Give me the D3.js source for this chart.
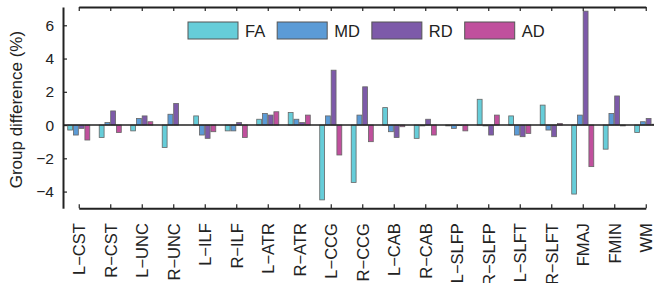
<!DOCTYPE html>
<html><head><meta charset="utf-8">
<script src="https://cdn.jsdelivr.net/npm/d3@7"></script>
<style>
html,body{margin:0;padding:0;background:#fff;}
svg{display:block;font-family:"Liberation Sans",Arial,Helvetica,sans-serif;}
</style></head>
<body><svg id="c" width="654" height="283"></svg>
<script>
const categories = ["L\u2212CST","R\u2212CST","L\u2212UNC","R\u2212UNC","L\u2212ILF","R\u2212ILF","L\u2212ATR","R\u2212ATR","L\u2212CCG","R\u2212CCG","L\u2212CAB","R\u2212CAB","L\u2212SLFP","R\u2212SLFP","L\u2212SLFT","R\u2212SLFT","FMAJ","FMIN","WM"];
const seriesNames = ["FA","MD","RD","AD"];
const FA = [-0.3,-0.75,-0.35,-1.35,0.55,-0.35,0.35,0.75,-4.5,-3.45,1.05,-0.8,-0.05,1.55,0.55,1.2,-4.15,-1.45,-0.45];
const MD = [-0.6,0.15,0.4,0.65,-0.6,-0.35,0.7,0.35,0.55,0.6,-0.4,-0.05,-0.2,-0.05,-0.6,-0.3,0.6,0.7,0.2];
const RD = [-0.2,0.85,0.55,1.3,-0.8,0.15,0.6,0.15,3.3,2.3,-0.75,0.35,-0.03,-0.6,-0.7,-0.7,6.85,1.75,0.4];
const AD = [-0.9,-0.45,0.2,0.0,-0.4,-0.75,0.8,0.6,-1.8,-1.0,-0.1,-0.6,-0.35,0.6,-0.5,0.1,-2.5,-0.05,0.05];
const yTicks = [-4,-2,0,2,4,6];
const colors = ["#66cdd9","#5b9bd6","#7d5aa9","#c0509d"];

(function(){
const seriesValues = [FA, MD, RD, AD];
const svg = d3.select("#c");
const mLeft = 63, mTop = 7, mBottom = 208.2;
const step = 31.5;
const x = d3.scaleBand().domain(categories).range([mLeft, mLeft + step*categories.length]).paddingInner(0.3).paddingOuter(0.15);
const x1 = d3.scaleBand().domain(seriesNames).range([0, x.bandwidth()]).paddingInner(0.15).paddingOuter(0);
const y = d3.scaleLinear().domain([-5, 7.1]).range([mBottom, mTop]);
const color = d3.scaleOrdinal().domain(seriesNames).range(colors);

const g = svg.append("g");
categories.forEach((c, i) => {
  seriesNames.forEach((s, j) => {
    const v = seriesValues[j][i];
    if (v === 0) return;
    g.append("rect")
      .attr("x", x(c) + x1(s))
      .attr("width", x1.bandwidth())
      .attr("y", y(Math.max(0, v)))
      .attr("height", Math.abs(y(v) - y(0)))
      .attr("fill", color(s))
      .attr("stroke", "#666")
      .attr("stroke-width", 0.8);
  });
});

svg.append("line").attr("x1", mLeft).attr("x2", 654).attr("y1", y(0)).attr("y2", y(0))
  .attr("stroke", "#222").attr("stroke-width", 1.5);

const xCenters = d3.scalePoint().domain(categories).range([x(categories[0]) + x.bandwidth()/2, x(categories[categories.length-1]) + x.bandwidth()/2]);
const axB = svg.append("g").attr("transform", `translate(0,${mBottom})`)
  .call(d3.axisBottom(xCenters).tickSize(-4).tickSizeOuter(0).tickPadding(16));
axB.select(".domain").attr("stroke", "#222").attr("stroke-width", 2);
axB.selectAll(".tick line").attr("stroke", "#222").attr("stroke-width", 1.2);
axB.selectAll(".tick text")
  .attr("transform", "rotate(-90)")
  .attr("text-anchor", "end")
  .attr("x", -15).attr("y", 0).attr("dy", "0.35em")
  .attr("font-size", 16.5).attr("fill", "#222").attr("font-family", null);

const axT = svg.append("g").attr("transform", `translate(0,${mTop})`)
  .call(d3.axisTop(xCenters).tickSize(-4).tickSizeOuter(0).tickFormat(""));
axT.select(".domain").attr("stroke", "#222").attr("stroke-width", 2);
axT.selectAll(".tick line").attr("stroke", "#222").attr("stroke-width", 1.2);

const axL = svg.append("g").attr("transform", `translate(${mLeft},0)`)
  .call(d3.axisLeft(y).tickValues(yTicks).tickSize(-4).tickSizeOuter(0).tickPadding(9));
axL.select(".domain").attr("stroke", "#222").attr("stroke-width", 2);
axL.selectAll(".tick line").attr("stroke", "#222").attr("stroke-width", 1.2);
axL.selectAll(".tick text").attr("font-size", 15.5).attr("fill", "#222").attr("font-family", null);

svg.append("text").attr("transform", `translate(22,${(mTop+mBottom)/2 + 2}) rotate(-90)`)
  .attr("text-anchor", "middle").attr("font-size", 17).attr("fill", "#222")
  .text("Group difference (%)");

const lg = svg.append("g");
let lx = 188;
seriesNames.forEach((s) => {
  lg.append("rect").attr("x", lx).attr("y", 22).attr("width", 50).attr("height", 17)
    .attr("fill", color(s)).attr("stroke", "#555").attr("stroke-width", 1);
  const t = lg.append("text").attr("x", lx + 57).attr("y", 36.5).attr("font-size", 16.5)
    .attr("fill", "#222").text(s);
  lx = lx + 57 + t.node().getComputedTextLength() + 12;
});
})();
</script></body></html>
